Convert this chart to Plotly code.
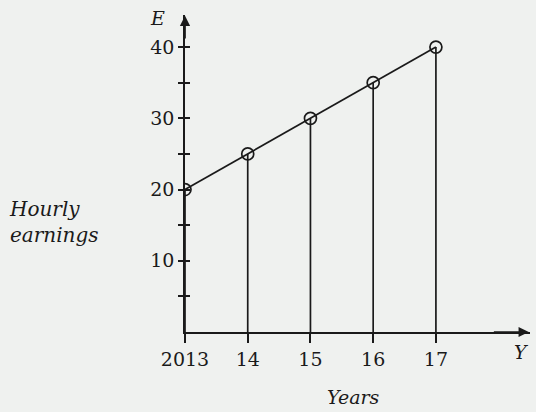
import plotly.graph_objects as go

years = [2013, 2014, 2015, 2016, 2017]
year_labels = ["2013", "14", "15", "16", "17"]
earnings = [20, 25, 30, 35, 40]
y_ticks = [5, 10, 15, 20, 25, 30, 35, 40]
y_tick_labels = ["", "10", "", "20", "", "30", "", "40"]

ink = "#1a1a1a"
bg = "#eff1ef"
serif = "DejaVu Serif"

# vertical drop lines from each point down to the year axis
drop_x, drop_y = [], []
for x, y in zip(years, earnings):
    drop_x += [x, x, None]
    drop_y += [0, y, None]

fig = go.Figure()
fig.add_trace(go.Scatter(x=drop_x, y=drop_y, mode="lines",
                         line=dict(color=ink, width=1.7), hoverinfo="skip"))
fig.add_trace(go.Scatter(
    x=years, y=earnings, mode="lines+markers",
    line=dict(color=ink, width=1.7),
    marker=dict(size=12, color="rgba(0,0,0,0)", line=dict(color=ink, width=1.7)),
))

tick_font = dict(family=serif, size=19, color=ink)
fig.update_xaxes(
    range=[2013, 2018.5], tickvals=years, ticktext=year_labels,
    showgrid=False, zeroline=False, showline=True, linecolor=ink, linewidth=1.7,
    ticks="outside", ticklen=9, tickwidth=1.7, tickcolor=ink, tickfont=tick_font,
)
fig.update_yaxes(
    range=[0, 44.5], tickvals=y_ticks, ticktext=y_tick_labels,
    showgrid=False, zeroline=False, showline=True, linecolor=ink, linewidth=1.7,
    ticks="outside", ticklen=5, tickwidth=1.7, tickcolor=ink, tickfont=tick_font,
)
# second y axis only to draw the inner half of the crossing ticks
fig.update_layout(yaxis2=dict(
    overlaying="y", side="left", range=[0, 44.5], tickvals=y_ticks,
    showticklabels=False, ticks="inside", ticklen=5, tickwidth=1.7,
    tickcolor=ink, showgrid=False, zeroline=False, showline=False,
))
fig.add_trace(go.Scatter(x=[None], y=[None], yaxis="y2", showlegend=False))

# axis arrows
fig.add_annotation(x=2018.48, y=0, ax=2017.9, ay=0, xref="x", yref="y",
                   axref="x", ayref="y", text="", showarrow=True,
                   arrowhead=2, arrowsize=1.2, arrowwidth=1.7, arrowcolor=ink)
fig.add_annotation(x=2013, y=44.4, ax=2013, ay=41, xref="x", yref="y",
                   axref="x", ayref="y", text="", showarrow=True,
                   arrowhead=2, arrowsize=1.2, arrowwidth=1.7, arrowcolor=ink)

# axis names
label_font = dict(family=serif, size=19, color=ink)
for x, y, txt in [(-0.08, 0.99, "<i>E</i>"),
                  (0.974, -0.063, "<i>Y</i>"),
                  (0.487, -0.205, "<i>Years</i>")]:
    fig.add_annotation(x=x, y=y, xref="paper", yref="paper", text=txt,
                       xanchor="center", yanchor="middle",
                       showarrow=False, font=label_font)
fig.add_annotation(x=-0.515, y=0.347, xref="paper", yref="paper",
                   xanchor="left", yanchor="middle", align="left",
                   text="<i>Hourly<br>earnings</i>",
                   showarrow=False, font=dict(family=serif, size=20, color=ink))

fig.update_layout(
    width=536, height=412, showlegend=False,
    margin=dict(l=185, r=6, t=15, b=80),
    paper_bgcolor=bg, plot_bgcolor=bg,
)

fig.write_html(
    "out.html",
    config={"displayModeBar": False},
    post_script=f"document.body.style.margin='0';document.body.style.background='{bg}';",
)
